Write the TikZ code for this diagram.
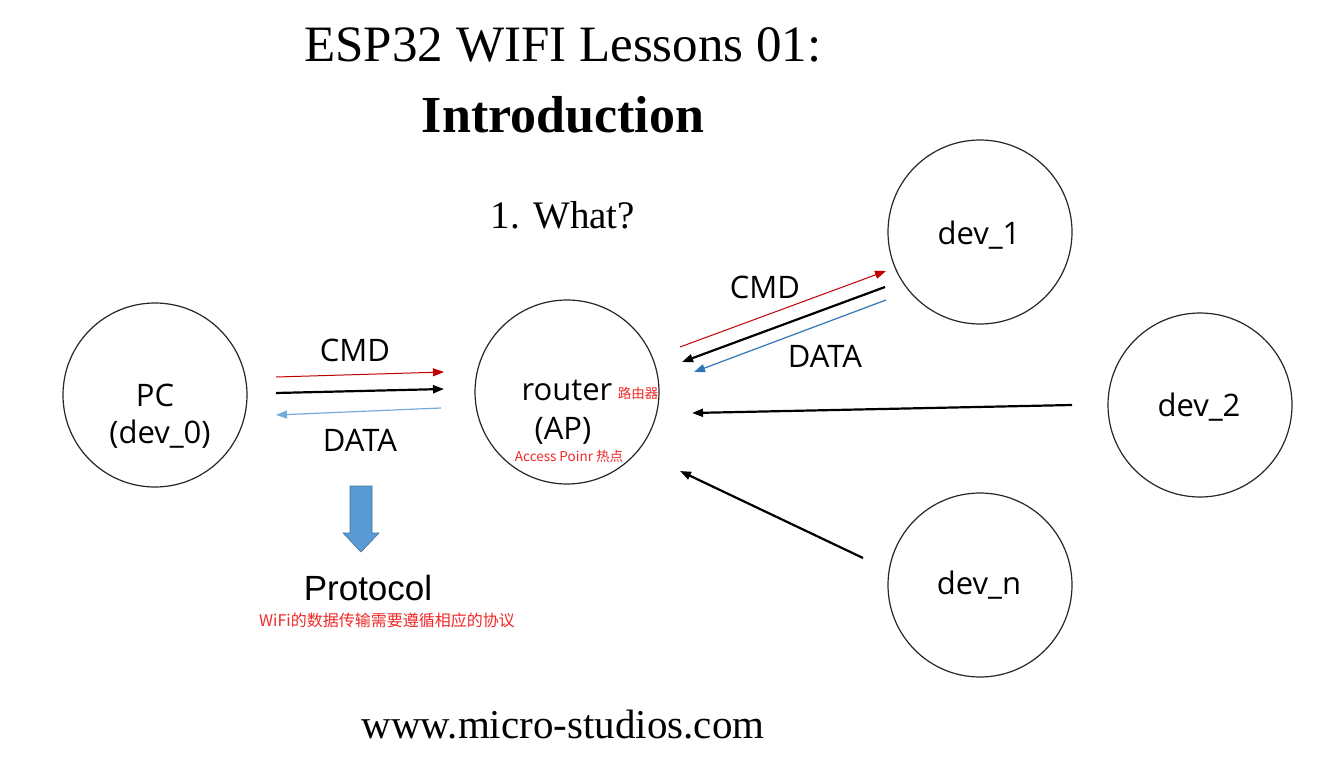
\documentclass[tikz,border=0pt]{standalone}
\usepackage{fontspec}
\setmainfont{Liberation Serif}
\newfontfamily\lblfont{Open Sans}
\newfontfamily\arialfont{Liberation Sans}
\newfontfamily\cjk{Noto Sans CJK SC}
\usetikzlibrary{arrows.meta}
\definecolor{cmdred}{HTML}{C00000}
\definecolor{datablue}{HTML}{5B9BD5}
\definecolor{datablue2}{HTML}{2E75B6}
\definecolor{notered}{HTML}{F02828}
\definecolor{blockblue}{HTML}{5B9BD5}
\definecolor{blockedge}{HTML}{41719C}
\tikzset{
  devcircle/.style={circle, draw=black!85, line width=1.2pt, minimum size=184pt, inner sep=0pt},
  lbl/.style={font=\lblfont\fontsize{31}{33}\selectfont, inner sep=0pt},
  note/.style={font=\cjk\fontsize{13.5}{15}\selectfont, text=notered, inner sep=0pt},
  titletext/.style={inner sep=0pt},
  tip/.style={-{Triangle[length=11pt,width=8pt]}},
  cmdarrow/.style={tip, draw=cmdred, line width=1pt},
  blackarrow/.style={tip, draw=black, line width=2.2pt},
  dataarrow/.style={tip, draw=datablue, line width=1.2pt},
}
\begin{document}
\begin{tikzpicture}[x=1pt,y=-1pt]
\useasboundingbox (0,0) rectangle (1328,776);
% titles
\node[titletext, font=\fontsize{51}{55}\selectfont] (t1) at (563,45) {ESP32 WIFI Lessons 01:};
\node[titletext, font=\bfseries\fontsize{52}{56}\selectfont] (t2) at (563,115) {Introduction};
\node[titletext, font=\fontsize{39}{44}\selectfont] (t3) at (563,215) {1. What?};
\node[titletext, font=\fontsize{41}{46}\selectfont] (t4) at (563,725) {www.micro-studios.com};
% circles
\node[devcircle] (pc) at (155,395) {};
\node[devcircle] (router) at (567,392) {};
\node[devcircle] (dev1) at (980,232) {};
\node[devcircle] (dev2) at (1200,405) {};
\node[devcircle] (devn) at (980,585) {};
% circle labels
\node[lbl] (pcl) at (155,395) {PC};
\node[lbl] (pcl2) at (160,434) {(dev\_0)};
\node[lbl] (rl) at (567,390) {router};
\node[note] (rcn) at (638,393) {路由器};
\node[lbl] (ap) at (563,431) {(AP)};
\node[note] (apn) at (569,456) {Access Poinr 热点};
\node[lbl] (d1) at (979,235) {dev\_1};
\node[lbl] (d2) at (1199,407) {dev\_2};
\node[lbl] (dn) at (979,585) {dev\_n};
% connector labels
\node[lbl] (cmdl) at (355,350) {CMD};
\node[lbl] (datal) at (360,440) {DATA};
\node[lbl] (cmdr) at (765,287) {CMD};
\node[lbl] (datar) at (825,356) {DATA};
% arrow end points
\coordinate (a1s) at (276,377); \coordinate (a1e) at (444,372);
\coordinate (a2s) at (276,393); \coordinate (a2e) at (444,389);
\coordinate (a3s) at (441,408); \coordinate (a3e) at (276,415);
\coordinate (b1s) at (680,347); \coordinate (b1e) at (886,271);
\coordinate (b2s) at (885,287); \coordinate (b2e) at (682,362);
\coordinate (b3s) at (886,300); \coordinate (b3e) at (694,372);
\coordinate (c1s) at (1072,405); \coordinate (c1e) at (692,413);
\coordinate (d1s) at (863,558); \coordinate (d1e) at (680,471);
% arrows
\draw[cmdarrow] (a1s) -- (a1e);
\draw[blackarrow] (a2s) -- (a2e);
\draw[dataarrow, draw=datablue!85] (a3s) -- (a3e);
\draw[cmdarrow] (b1s) -- (b1e);
\draw[blackarrow] (b2s) -- (b2e);
\draw[dataarrow, draw=datablue2] (b3s) -- (b3e);
\draw[blackarrow] (c1s) -- (c1e);
\draw[blackarrow] (d1s) -- (d1e);
% block arrow
\draw[fill=blockblue, draw=blockedge, line width=0.6pt]
  (350,486) -- (372,486) -- (372,533) -- (379,533) -- (361,552) -- (343,533) -- (350,533) -- cycle;
\node[inner sep=0pt, font=\arialfont\fontsize{35}{37}\selectfont] (proto) at (368,588) {Protocol};
\node[note, font=\cjk\fontsize{16}{18}\selectfont] (protonote) at (387,620) {WiFi的数据传输需要遵循相应的协议};
\end{tikzpicture}
\end{document}
